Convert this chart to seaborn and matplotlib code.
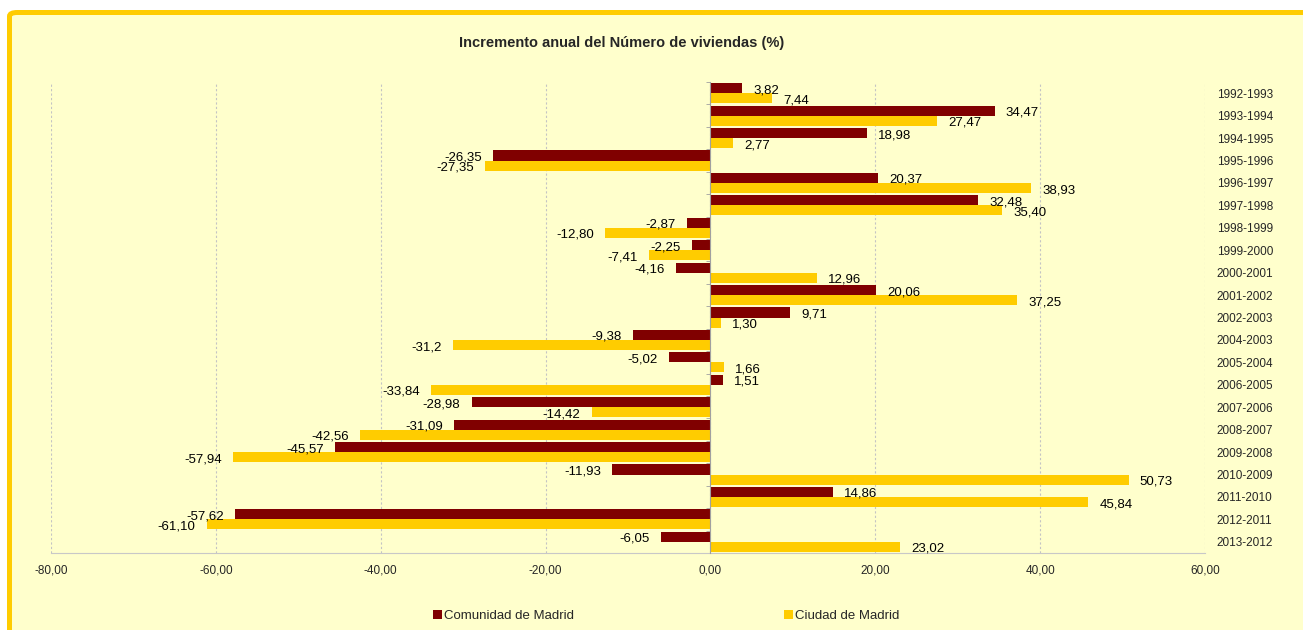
import numpy as np
import pandas as pd
import matplotlib
matplotlib.use('Agg')
import matplotlib.pyplot as plt
from matplotlib.patches import FancyBboxPatch
from matplotlib.ticker import FuncFormatter, FixedLocator
import seaborn as sns

periods = ['1992-1993', '1993-1994', '1994-1995', '1995-1996', '1996-1997', '1997-1998',
           '1998-1999', '1999-2000', '2000-2001', '2001-2002', '2002-2003', '2004-2003',
           '2005-2004', '2006-2005', '2007-2006', '2008-2007', '2009-2008', '2010-2009',
           '2011-2010', '2012-2011', '2013-2012']
comunidad = [3.82, 34.47, 18.98, -26.35, 20.37, 32.48, -2.87, -2.25, -4.16, 20.06, 9.71,
             -9.38, -5.02, 1.51, -28.98, -31.09, -45.57, -11.93, 14.86, -57.62, -6.05]
ciudad = [7.44, 27.47, 2.77, -27.35, 38.93, 35.40, -12.80, -7.41, 12.96, 37.25, 1.30,
          -31.2, 1.66, -33.84, -14.42, -42.56, -57.94, 50.73, 45.84, -61.10, 23.02]
comunidad_labels = ['3,82', '34,47', '18,98', '-26,35', '20,37', '32,48', '-2,87', '-2,25',
                    '-4,16', '20,06', '9,71', '-9,38', '-5,02', '1,51', '-28,98', '-31,09',
                    '-45,57', '-11,93', '14,86', '-57,62', '-6,05']
ciudad_labels = ['7,44', '27,47', '2,77', '-27,35', '38,93', '35,40', '-12,80', '-7,41',
                 '12,96', '37,25', '1,30', '-31,2', '1,66', '-33,84', '-14,42', '-42,56',
                 '-57,94', '50,73', '45,84', '-61,10', '23,02']
series = ['Comunidad de Madrid', 'Ciudad de Madrid']
colors = ['#800000', '#FFCC00']

df = pd.DataFrame({
    'periodo': periods * 2,
    'valor': comunidad + ciudad,
    'serie': [series[0]] * len(periods) + [series[1]] * len(periods),
})

sns.set_style('white')
plt.rcParams['font.family'] = ['Liberation Sans', 'DejaVu Sans']

fig = plt.figure(figsize=(13.03, 6.30), dpi=100)
fig.patch.set_facecolor('white')
# marco amarillo del grafico (se sale por la derecha y por abajo)
frame = FancyBboxPatch((9.5 / 1303, -0.05), 1.05, 1.05 - 12.5 / 630,
                       boxstyle='round,pad=0,rounding_size=0.006',
                       transform=fig.transFigure, facecolor='#FFFFCC',
                       edgecolor='#FFCC00', linewidth=3.6, zorder=-5)
fig.patches.append(frame)

ax = fig.add_axes([51 / 1303, 1 - 553 / 630, (1205 - 51) / 1303, (553 - 82) / 630])
ax.set_facecolor('none')
ax.set_zorder(2)

sns.barplot(data=df, x='valor', y='periodo', hue='serie', orient='h',
            palette=colors, width=0.9, saturation=1, ax=ax, zorder=3,
            linewidth=0, edgecolor='none')
ax.get_legend().remove()

for cont, labs in zip(ax.containers, [comunidad_labels, ciudad_labels]):
    anns = ax.bar_label(cont, labels=labs, padding=8, fontsize=9.5, color='black')
    for a in anns:
        dx, dy = a.xyann
        a.xyann = (dx, dy - 1.5)

ax.set_xlim(-80, 60)
ax.set_ylim(len(periods) - 0.5, -0.5)
ax.xaxis.set_major_locator(FixedLocator(np.arange(-80, 61, 20)))
ax.xaxis.set_major_formatter(FuncFormatter(lambda v, p: f'{v:.2f}'.replace('.', ',')))
ax.grid(axis='x', color='#C4C4C4', linestyle=(0, (2, 2)), linewidth=0.8, zorder=0)
ax.set_axisbelow(True)
ax.set_xlabel('')
ax.set_ylabel('')

for s in ['top', 'right']:
    ax.spines[s].set_visible(False)
ax.spines['left'].set_position(('data', 0))
ax.spines['left'].set_color('#A0A0A0')
ax.spines['bottom'].set_color('#C8C8C8')
ax.spines['left'].set_zorder(4)

ax.yaxis.set_minor_locator(FixedLocator(np.arange(-0.5, len(periods), 1)))
ax.tick_params(axis='y', which='major', left=False, right=False,
               labelleft=False, labelright=True, labelsize=8.5, pad=5)
ax.tick_params(axis='y', which='minor', left=True, length=3, color='#A0A0A0', direction='out')
ax.tick_params(axis='x', labelsize=8.5, length=0, pad=8)

fig.text(0.477, 1 - 43 / 630, 'Incremento anual del Número de viviendas (%)',
         ha='center', va='center', fontsize=10.5, fontweight='bold')

handles, labels = ax.get_legend_handles_labels()
fig.legend(handles, labels, loc='center', bbox_to_anchor=(666 / 1303, 1 - 616 / 630), ncol=2,
           frameon=False, fontsize=9.5, handlelength=0.7, handleheight=0.7,
           handletextpad=0.15, columnspacing=15.9)

fig.savefig('out.png', dpi=100, facecolor='white')
